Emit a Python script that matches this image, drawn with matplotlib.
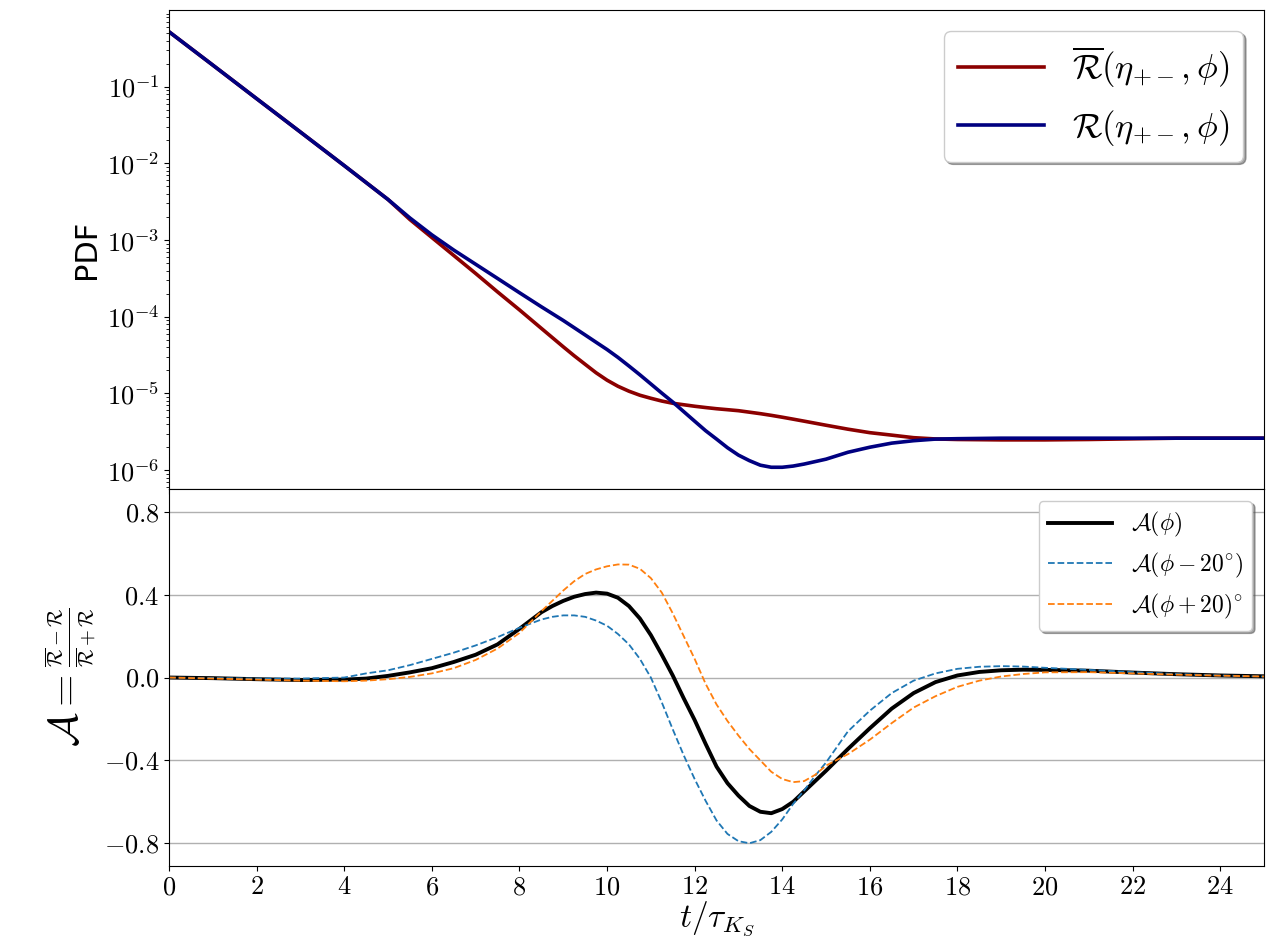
import matplotlib
matplotlib.use("Agg")
import matplotlib.pyplot as plt
import numpy as np

plt.rcParams['font.family'] = 'serif'
plt.rcParams['font.serif'] = ['cmr10']
plt.rcParams['mathtext.fontset'] = 'cm'
plt.rcParams['axes.formatter.use_mathtext'] = True

# time grid (t / tau_KS) for the PDF panel
t_pdf = [0, 1, 2, 3, 4, 5, 5.5, 6, 6.5, 7, 7.5, 8, 8.5, 9, 9.25, 9.5, 9.75,
         10, 10.25, 10.5, 10.75, 11, 11.25, 11.5, 12, 12.25, 12.5, 12.75, 13,
         13.25, 13.5, 13.75, 14, 14.25, 14.5, 15, 15.5, 16, 16.5, 17, 17.5, 18,
         19, 20, 21, 22, 23, 24, 25]

# PDF of K -> pi+ pi- (bar = Kbar)
pdf_rbar = [0.520, 0.191, 0.0698, 0.0256, 9.35e-3, 3.38e-3, 1.85e-3, 1.08e-3,
            6.30e-4, 3.67e-4, 2.11e-4, 1.23e-4, 7.06e-5, 4.06e-5, 3.10e-5,
            2.40e-5, 1.86e-5, 1.49e-5, 1.24e-5, 1.07e-5, 9.48e-6, 8.65e-6,
            7.96e-6, 7.45e-6, 6.81e-6, 6.55e-6, 6.32e-6, 6.14e-6, 5.96e-6,
            5.70e-6, 5.45e-6, 5.18e-6, 4.90e-6, 4.62e-6, 4.35e-6, 3.85e-6,
            3.42e-6, 3.08e-6, 2.86e-6, 2.65e-6, 2.55e-6, 2.51e-6, 2.48e-6,
            2.48e-6, 2.51e-6, 2.56e-6, 2.61e-6, 2.61e-6, 2.61e-6]
pdf_r = [0.520, 0.191, 0.0698, 0.0256, 9.35e-3, 3.38e-3, 1.94e-3, 1.17e-3,
         7.41e-4, 4.84e-4, 3.16e-4, 2.06e-4, 1.35e-4, 8.95e-5, 7.20e-5,
         5.79e-5, 4.65e-5, 3.74e-5, 2.95e-5, 2.28e-5, 1.75e-5, 1.33e-5,
         1.01e-5, 7.73e-6, 4.35e-6, 3.27e-6, 2.54e-6, 1.96e-6, 1.57e-6,
         1.33e-6, 1.16e-6, 1.09e-6, 1.09e-6, 1.13e-6, 1.20e-6, 1.39e-6,
         1.71e-6, 1.99e-6, 2.25e-6, 2.42e-6, 2.54e-6, 2.57e-6, 2.61e-6,
         2.61e-6, 2.61e-6, 2.61e-6, 2.61e-6, 2.61e-6, 2.61e-6]

# asymmetry panel
t_asym = [0, 1, 2, 3, 4, 4.5, 5, 5.5, 6, 6.5, 7, 7.5, 8, 8.5, 8.75, 9, 9.25,
          9.5, 9.75, 10, 10.25, 10.5, 10.75, 11, 11.25, 11.5, 11.75, 12, 12.25,
          12.5, 12.75, 13, 13.25, 13.5, 13.75, 14, 14.25, 14.5, 14.75, 15,
          15.5, 16, 16.5, 17, 17.5, 18, 18.5, 19, 19.5, 20, 21, 22, 23, 24, 25]
asym = [0.0, -0.003, -0.008, -0.012, -0.010, -0.005, 0.008, 0.025, 0.045,
        0.075, 0.110, 0.160, 0.235, 0.315, 0.345, 0.370, 0.390, 0.403, 0.410,
        0.405, 0.385, 0.345, 0.285, 0.205, 0.110, 0.010, -0.100, -0.205,
        -0.320, -0.430, -0.510, -0.570, -0.620, -0.648, -0.655, -0.635,
        -0.600, -0.550, -0.500, -0.450, -0.345, -0.245, -0.150, -0.075,
        -0.022, 0.010, 0.027, 0.035, 0.038, 0.037, 0.033, 0.024, 0.016,
        0.010, 0.006]
asym_minus = [0.0, -0.002, -0.005, -0.005, 0.0, 0.020, 0.035, 0.060, 0.090,
              0.120, 0.155, 0.195, 0.240, 0.280, 0.293, 0.300, 0.300, 0.293,
              0.275, 0.250, 0.210, 0.160, 0.090, 0.0, -0.120, -0.250, -0.375,
              -0.490, -0.595, -0.690, -0.755, -0.790, -0.800, -0.785, -0.745,
              -0.685, -0.610, -0.545, -0.475, -0.410, -0.260, -0.160, -0.075,
              -0.015, 0.020, 0.042, 0.052, 0.055, 0.053, 0.047, 0.037, 0.026,
              0.017, 0.010, 0.005]
asym_plus = [0.0, -0.005, -0.010, -0.015, -0.018, -0.015, -0.008, 0.003, 0.020,
             0.045, 0.085, 0.140, 0.215, 0.320, 0.370, 0.420, 0.465, 0.500,
             0.522, 0.537, 0.546, 0.545, 0.525, 0.480, 0.410, 0.310, 0.200,
             0.090, -0.030, -0.130, -0.210, -0.280, -0.345, -0.400, -0.455,
             -0.490, -0.505, -0.500, -0.470, -0.425, -0.370, -0.300, -0.220,
             -0.145, -0.090, -0.045, -0.015, 0.005, 0.017, 0.025, 0.026,
             0.020, 0.014, 0.009, 0.005]

fig = plt.figure(figsize=(12.76, 9.47), dpi=100)
gs = fig.add_gridspec(2, 1, height_ratios=[479, 377], hspace=0,
                      left=0.1325, right=0.9906, top=0.9894, bottom=0.0855)
ax1 = fig.add_subplot(gs[0])
ax2 = fig.add_subplot(gs[1], sharex=ax1)

ax1.plot(t_pdf, pdf_rbar, color='#8b0000', lw=2.6,
         label=r'$\overline{\mathcal{R}}(\eta_{+-},\phi)$')
ax1.plot(t_pdf, pdf_r, color='#000080', lw=2.6,
         label=r'$\mathcal{R}(\eta_{+-},\phi)$')
ax1.set_yscale('log')
ax1.set_ylabel('PDF', family='DejaVu Sans', fontsize=22)
ax1.tick_params(labelsize=19)
ax1.tick_params(axis='x', labelbottom=False)
ax1.legend(loc='upper right', fontsize=25, shadow=True, framealpha=1,
           handlelength=2.5, borderaxespad=0.6)

ax2.plot(t_asym, asym, color='black', lw=2.8, label=r'$\mathcal{A}(\phi)$')
ax2.plot(t_asym, asym_minus, color='tab:blue', ls='--', lw=1.3,
         label=r'$\mathcal{A}(\phi-20^{\circ})$')
ax2.plot(t_asym, asym_plus, color='tab:orange', ls='--', lw=1.3,
         label=r'$\mathcal{A}(\phi+20)^{\circ}$')
ax2.set_xlim(0, 25)
ax2.set_ylim(-0.91, 0.91)
ax2.set_yticks([-0.8, -0.4, 0.0, 0.4, 0.8])
ax2.set_xticks(np.arange(0, 25, 2))
ax2.yaxis.grid(True, color='#b0b0b0', lw=1)
ax2.tick_params(labelsize=19)
ax2.set_xlabel(r'$t/\tau_{K_S}$', fontsize=24, labelpad=0)
ax2.set_ylabel(r'$\mathcal{A}=\genfrac{}{}{1.2}{2}{\overline{\mathcal{R}}-\mathcal{R}}'
               r'{\overline{\mathcal{R}}+\mathcal{R}}$', fontsize=30)
ax2.legend(loc='upper right', fontsize=17, shadow=True, framealpha=1,
           handlelength=2.7)

fig.savefig('out.png', dpi=100)
